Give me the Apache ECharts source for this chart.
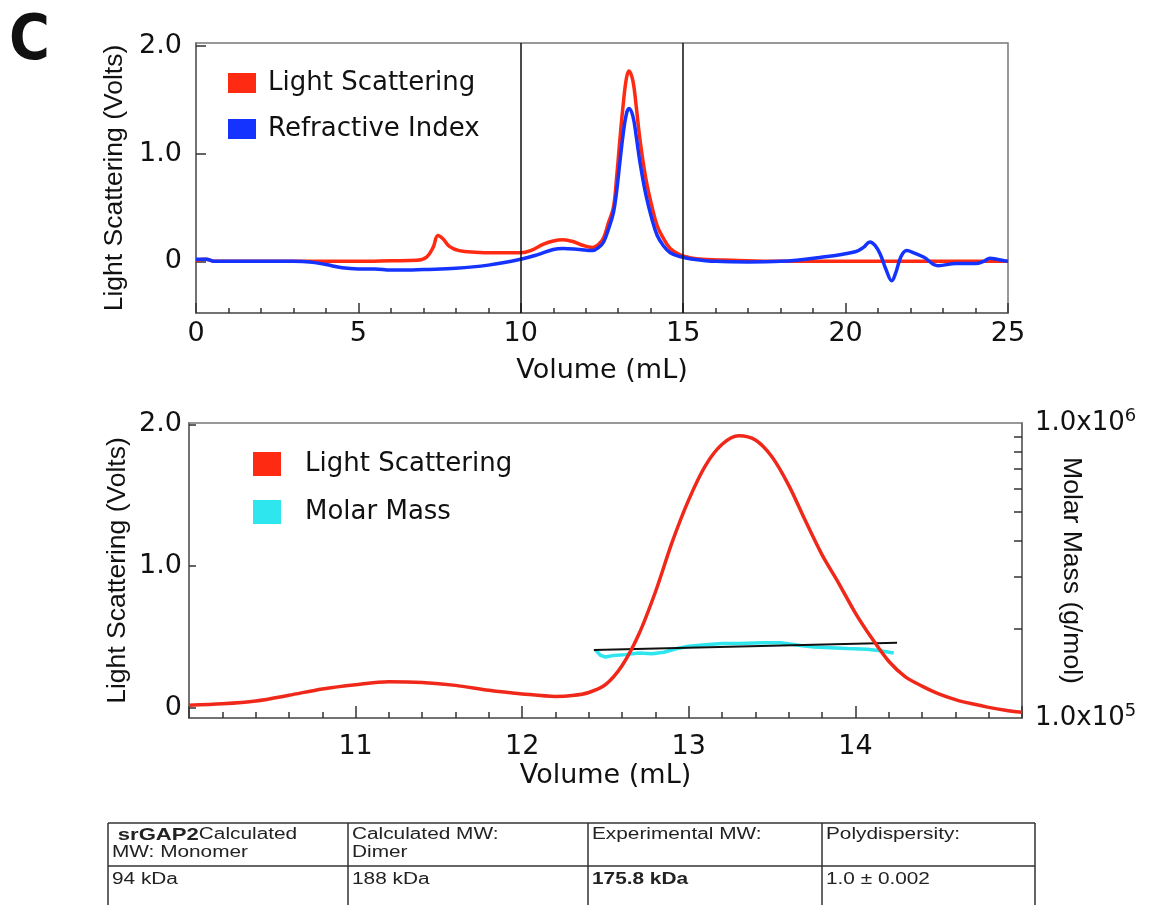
<!DOCTYPE html>
<html>
<head>
<meta charset="utf-8">
<title>srGAP2 SEC-MALS</title>
<script src="https://cdn.jsdelivr.net/npm/echarts@6/dist/echarts.min.js"></script>
<style>
  html, body { margin: 0; padding: 0; background: #fff; }
  #chart { width: 1152px; height: 905px; }
</style>
</head>
<body>
<div id="chart"></div>
<script>
// full run, 0-25 mL
const topLsVolume = [0, 0.3, 0.6, 1, 2, 3, 4, 5, 6, 6.8, 7.1, 7.3, 7.45, 7.6, 7.8, 8.1, 8.6, 9.2, 10, 10.3, 10.7, 11.0, 11.3, 11.6, 11.9, 12.2, 12.4, 12.55, 12.7, 12.85, 12.95, 13.05, 13.15, 13.25, 13.33, 13.45, 13.55, 13.67, 13.85, 14.03, 14.2, 14.38, 14.6, 14.9, 15.2, 15.6, 16.5, 18, 20, 22, 24, 25];
const topLsSignal = [0.01, 0.02, 0.0, 0.0, 0.0, 0.0, 0.0, 0.0, 0.005, 0.01, 0.04, 0.13, 0.24, 0.21, 0.14, 0.1, 0.085, 0.08, 0.08, 0.1, 0.16, 0.19, 0.2, 0.185, 0.15, 0.13, 0.16, 0.22, 0.36, 0.5, 0.78, 1.13, 1.45, 1.7, 1.77, 1.68, 1.45, 1.13, 0.77, 0.52, 0.33, 0.22, 0.12, 0.06, 0.035, 0.02, 0.01, 0.0, 0.0, 0.0, 0.0, 0.0];

const topRiVolume = [0, 0.3, 0.6, 1, 2, 3, 3.5, 4, 4.5, 5, 5.5, 6, 6.5, 7, 8, 9, 10, 10.5, 11, 11.3, 11.8, 12.2, 12.4, 12.55, 12.7, 12.85, 12.95, 13.05, 13.15, 13.25, 13.33, 13.45, 13.55, 13.67, 13.85, 14.03, 14.2, 14.38, 14.6, 14.9, 15.2, 16, 17, 18, 19.3, 20.3, 20.55, 20.75, 20.9, 21.06, 21.25, 21.42, 21.55, 21.7, 21.88, 22.1, 22.4, 22.85, 23.4, 24.0, 24.25, 24.45, 24.65, 25];
const topRiSignal = [0.02, 0.02, 0.0, 0.0, 0.0, 0.0, -0.005, -0.03, -0.06, -0.07, -0.07, -0.08, -0.08, -0.075, -0.065, -0.035, 0.02, 0.06, 0.11, 0.12, 0.11, 0.1, 0.13, 0.18, 0.3, 0.45, 0.65, 0.92, 1.18, 1.37, 1.42, 1.35, 1.17, 0.92, 0.62, 0.4, 0.24, 0.15, 0.08, 0.045, 0.025, 0.0, -0.005, 0.0, 0.04, 0.09, 0.13, 0.18, 0.15, 0.07, -0.08, -0.18, -0.1, 0.04, 0.1, 0.08, 0.04, -0.04, -0.02, -0.02, 0.0, 0.03, 0.02, 0.0];

const fractionBounds = [10, 15];

// zoom on the main peak, 10-15 mL
const peakLsVolume = [10.0, 10.2, 10.4, 10.6, 10.8, 11.0, 11.2, 11.4, 11.6, 11.8, 12.0, 12.2, 12.3, 12.4, 12.5, 12.6, 12.7, 12.8, 12.9, 13.0, 13.1, 13.2, 13.3, 13.4, 13.5, 13.6, 13.7, 13.8, 13.9, 14.0, 14.1, 14.2, 14.3, 14.4, 14.5, 14.6, 14.7, 14.8, 14.9, 15.0];
const peakLsSignal = [0.02, 0.03, 0.05, 0.09, 0.135, 0.165, 0.185, 0.18, 0.16, 0.125, 0.1, 0.082, 0.088, 0.11, 0.165, 0.3, 0.52, 0.82, 1.17, 1.47, 1.71, 1.86, 1.92, 1.89, 1.77, 1.57, 1.32, 1.08, 0.88, 0.67, 0.49, 0.33, 0.22, 0.155, 0.1, 0.06, 0.03, 0.005, -0.015, -0.03];

const molarVolume = [12.44, 12.47, 12.5, 12.55, 12.62, 12.7, 12.78, 12.85, 12.93, 13.0, 13.1, 13.2, 13.3, 13.45, 13.55, 13.67, 13.75, 13.85, 13.95, 14.07, 14.15, 14.23];
const molarMass = [1.70e5, 1.63e5, 1.61e5, 1.63e5, 1.64e5, 1.66e5, 1.65e5, 1.67e5, 1.72e5, 1.75e5, 1.77e5, 1.79e5, 1.79e5, 1.80e5, 1.80e5, 1.76e5, 1.74e5, 1.73e5, 1.72e5, 1.71e5, 1.69e5, 1.66e5];

const fitVolume = [12.43, 14.25];
const fitMass = [1.70e5, 1.80e5];

const massTicks = [2e5, 3e5, 4e5, 5e5, 6e5, 7e5, 8e5, 9e5];

const tableHeader = [" {b|srGAP2}Calculated\nMW: Monomer", "Calculated MW:\nDimer", "Experimental MW:", "Polydispersity:"];
const tableValues = ["94 kDa", "188 kDa", "{b|175.8 kDa}", "1.0 ± 0.002"];

const FONT = "DejaVu Sans, Verdana, sans-serif";
const ARIAL = "Liberation Sans, Arial, sans-serif";
const pairs = (xs, ys) => xs.map((x, i) => [x, ys[i]]);

const chart = echarts.init(document.getElementById("chart"));

// table under the plots
const colX = [108, 348, 588, 822, 1035];
const tableTop = 823;
const tableMid = 866;
const tableEls = [];
tableEls.push({ type: "line", shape: { x1: colX[0], y1: tableTop, x2: colX[4], y2: tableTop }, style: { stroke: "#333", lineWidth: 1.5 } });
tableEls.push({ type: "line", shape: { x1: colX[0], y1: tableMid, x2: colX[4], y2: tableMid }, style: { stroke: "#333", lineWidth: 1.5 } });
colX.forEach((x) => {
  tableEls.push({ type: "line", shape: { x1: x, y1: tableTop, x2: x, y2: 910 }, style: { stroke: "#333", lineWidth: 1.5 } });
});
tableHeader.forEach((t, i) => {
  tableEls.push({
    type: "text", x: colX[i] + 4, y: tableTop + 3, scaleX: 1.3,
    style: { text: t, fontFamily: ARIAL, fontSize: 16, lineHeight: 18, fill: "#222",
      rich: { b: { fontFamily: ARIAL, fontSize: 17, fontWeight: "bold", fill: "#222" } } }
  });
});
tableValues.forEach((t, i) => {
  tableEls.push({
    type: "text", x: colX[i] + 4, y: tableMid + 5, scaleX: 1.3,
    style: { text: t, fontFamily: ARIAL, fontSize: 16, lineHeight: 18, fill: "#222",
      rich: { b: { fontFamily: ARIAL, fontSize: 16, fontWeight: "bold", fill: "#222" } } }
  });
});

const xNameStyle = { fontFamily: FONT, fontSize: 27, color: "#111" };
const yNameStyle = { fontFamily: ARIAL, fontSize: 26.5, color: "#111" };
const labelStyle = { fontFamily: FONT, fontSize: 27, color: "#111" };

const option = {
  animation: false,
  backgroundColor: "#fff",
  graphic: [
    { type: "text", left: 9, top: 12, style: { text: "C", fontFamily: "DejaVu Sans Condensed, DejaVu Sans", fontWeight: "bold", fontSize: 62, fill: "#111" } },
    { type: "group", children: tableEls }
  ],
  legend: [
    {
      data: ["Light Scattering", "Refractive Index"],
      orient: "vertical", left: 228, top: 70, padding: 0, icon: "rect",
      itemWidth: 28, itemHeight: 20, itemGap: 20, selectedMode: false,
      textStyle: { fontFamily: FONT, fontSize: 26, color: "#111", padding: [0, 0, 0, 7] }
    },
    {
      data: ["Light Scattering", "Molar Mass"],
      orient: "vertical", left: 253, top: 451, padding: 0, icon: "rect",
      itemWidth: 28, itemHeight: 24, itemGap: 22, selectedMode: false,
      textStyle: { fontFamily: FONT, fontSize: 26, color: "#111", padding: [0, 0, 0, 19] }
    }
  ],
  grid: [
    { left: 196, top: 43, width: 812, height: 270, show: true, borderColor: "#777", borderWidth: 1.5 },
    { left: 189, top: 423, width: 833, height: 295, show: true, borderColor: "#777", borderWidth: 1.5 }
  ],
  xAxis: [
    {
      gridIndex: 0, type: "value", min: 0, max: 25, interval: 5,
      name: "Volume (mL)", nameLocation: "middle", nameGap: 44, nameTextStyle: xNameStyle,
      axisLine: { onZero: false, lineStyle: { color: "#666", width: 1.5 } },
      axisTick: { inside: true, length: 10, lineStyle: { color: "#333", width: 1.5 } },
      minorTick: { show: true, splitNumber: 5, length: 5, lineStyle: { color: "#333", width: 1.5 } },
      axisLabel: Object.assign({ margin: 7 }, labelStyle),
      splitLine: { show: false }
    },
    {
      gridIndex: 1, type: "value", min: 10, max: 15, interval: 1,
      name: "Volume (mL)", nameLocation: "middle", nameGap: 44, nameTextStyle: xNameStyle,
      axisLine: { onZero: false, lineStyle: { color: "#666", width: 1.5 } },
      axisTick: { inside: true, length: 12, lineStyle: { color: "#333", width: 1.5 } },
      minorTick: { show: true, splitNumber: 5, length: 6, lineStyle: { color: "#333", width: 1.5 } },
      axisLabel: Object.assign({ margin: 15, showMinLabel: false, showMaxLabel: false }, labelStyle),
      splitLine: { show: false }
    }
  ],
  yAxis: [
    {
      gridIndex: 0, type: "value", min: -0.48, max: 2.03,
      name: "Light Scattering (Volts)", nameLocation: "middle", nameGap: 68, nameMoveOverlap: false, nameTextStyle: yNameStyle,
      axisLine: { show: true, onZero: false, lineStyle: { color: "#666", width: 1.5 } },
      axisTick: { inside: true, length: 10, customValues: [0, 1, 2], lineStyle: { color: "#333", width: 1.5 } },
      axisLabel: Object.assign({ margin: 14, customValues: [0, 1, 2], formatter: (v) => (v === 0 ? "0" : v.toFixed(1)) }, labelStyle),
      splitLine: { show: false }
    },
    {
      gridIndex: 1, type: "value", min: -0.07, max: 2.01,
      name: "Light Scattering (Volts)", nameLocation: "middle", nameGap: 58, nameMoveOverlap: false, nameTextStyle: yNameStyle,
      axisLine: { show: true, onZero: false, lineStyle: { color: "#666", width: 1.5 } },
      axisTick: { inside: true, length: 7, customValues: [0, 1, 2], lineStyle: { color: "#333", width: 1.5 } },
      axisLabel: Object.assign({ margin: 7, customValues: [0, 1, 2], formatter: (v) => (v === 0 ? "0" : v.toFixed(1)) }, labelStyle),
      splitLine: { show: false }
    },
    {
      gridIndex: 1, type: "log", logBase: 10, min: 1e5, max: 1e6, position: "right",
      name: "Molar Mass (g/mol)", nameLocation: "middle", nameRotate: -90, nameGap: 36, nameMoveOverlap: false, nameTextStyle: yNameStyle,
      axisLine: { show: true, onZero: false, lineStyle: { color: "#666", width: 1.5 } },
      axisTick: { inside: true, length: 8, customValues: massTicks, lineStyle: { color: "#333", width: 1.5 } },
      axisLabel: {
        margin: 13, color: "#111",
        formatter: (v) => "{m|1.0x10}{s|" + Math.round(Math.log10(v)) + "}",
        rich: {
          m: { fontFamily: FONT, fontSize: 26, color: "#111" },
          s: { fontFamily: FONT, fontSize: 18, color: "#111", padding: [0, 0, 14, 0] }
        }
      },
      splitLine: { show: false }
    }
  ],
  series: [
    {
      name: "Light Scattering", type: "line", xAxisIndex: 0, yAxisIndex: 0,
      data: pairs(topLsVolume, topLsSignal), smooth: 0.4, showSymbol: false,
      color: "#ff2a12", lineStyle: { width: 3.5 },
      markLine: {
        silent: true, symbol: ["none", "none"], label: { show: false },
        lineStyle: { color: "#111", width: 1.5, type: "solid" },
        data: fractionBounds.map((v) => ({ xAxis: v }))
      }
    },
    {
      name: "Refractive Index", type: "line", xAxisIndex: 0, yAxisIndex: 0,
      data: pairs(topRiVolume, topRiSignal), smooth: 0.4, showSymbol: false,
      color: "#1433ff", lineStyle: { width: 3.5 }
    },
    {
      name: "Molar Mass", type: "line", xAxisIndex: 1, yAxisIndex: 2,
      data: pairs(molarVolume, molarMass), smooth: false, showSymbol: false,
      color: "#2ee6ee", lineStyle: { width: 3.5 }
    },
    {
      name: "fit", type: "line", xAxisIndex: 1, yAxisIndex: 2,
      data: pairs(fitVolume, fitMass), showSymbol: false,
      color: "#111", lineStyle: { width: 2 }
    },
    {
      name: "Light Scattering", type: "line", xAxisIndex: 1, yAxisIndex: 1,
      data: pairs(peakLsVolume, peakLsSignal), smooth: 0.3, showSymbol: false,
      color: "#f0281a", lineStyle: { width: 3.5 }
    }
  ]
};

chart.setOption(option);
window.onresize = function () {
  chart.resize();
};
</script>
</body>
</html>
